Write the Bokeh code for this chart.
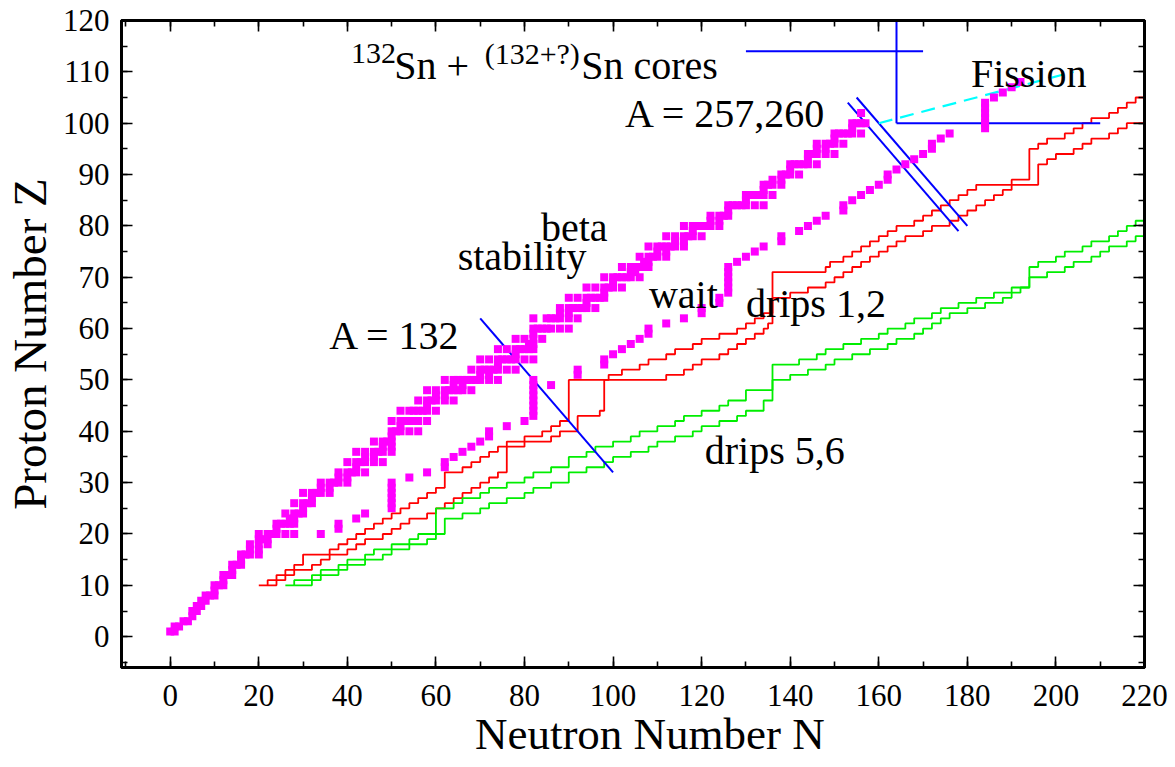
from bokeh.plotting import figure
from bokeh.models import Label, FixedTicker, LinearAxis, Range1d
from bokeh.embed import file_html
from bokeh.resources import INLINE

# ---------------- data ----------------
# beta-stable nuclei (N, Z)
beta_stable = [
    (0, 1), (1, 1), (1, 2), (2, 2), (3, 3), (4, 3), (5, 4), (5, 5), (6, 5),
    (6, 6), (7, 6), (7, 7), (8, 7), (8, 8), (9, 8), (10, 8), (10, 9),
    (10, 10), (11, 10), (12, 10), (12, 11), (12, 12), (13, 12), (14, 12),
    (14, 13), (14, 14), (15, 14), (16, 14), (16, 15),
    (16, 16), (17, 16), (18, 16), (20, 16), (18, 17), (20, 17),
    (18, 18), (20, 18), (22, 18), (20, 19), (21, 19), (22, 19),
    (20, 20), (22, 20), (23, 20), (24, 20), (26, 20), (28, 20), (24, 21),
    (24, 22), (25, 22), (26, 22), (27, 22), (28, 22), (27, 23), (28, 23),
    (26, 24), (28, 24), (29, 24), (30, 24), (30, 25),
    (28, 26), (30, 26), (31, 26), (32, 26), (32, 27),
    (30, 28), (32, 28), (33, 28), (34, 28), (36, 28), (34, 29), (36, 29),
    (34, 30), (36, 30), (37, 30), (38, 30), (40, 30), (38, 31), (40, 31),
    (38, 32), (40, 32), (41, 32), (42, 32), (44, 32), (42, 33),
    (40, 34), (42, 34), (43, 34), (44, 34), (46, 34), (48, 34), (44, 35), (46, 35),
    (42, 36), (44, 36), (46, 36), (47, 36), (48, 36), (50, 36), (48, 37), (50, 37),
    (46, 38), (48, 38), (49, 38), (50, 38), (50, 39),
    (50, 40), (51, 40), (52, 40), (54, 40), (56, 40), (52, 41),
    (50, 42), (52, 42), (53, 42), (54, 42), (55, 42), (56, 42), (58, 42),
    (52, 44), (54, 44), (55, 44), (56, 44), (57, 44), (58, 44), (60, 44), (58, 45),
    (56, 46), (58, 46), (59, 46), (60, 46), (62, 46), (64, 46), (60, 47), (62, 47),
    (58, 48), (60, 48), (62, 48), (63, 48), (64, 48), (65, 48), (66, 48), (68, 48),
    (64, 49), (66, 49),
    (62, 50), (64, 50), (65, 50), (66, 50), (67, 50), (68, 50), (69, 50), (70, 50),
    (72, 50), (74, 50), (70, 51), (72, 51),
    (68, 52), (70, 52), (71, 52), (72, 52), (73, 52), (74, 52), (76, 52), (78, 52),
    (74, 53),
    (70, 54), (72, 54), (74, 54), (75, 54), (76, 54), (77, 54), (78, 54), (80, 54),
    (82, 54), (78, 55),
    (74, 56), (76, 56), (78, 56), (79, 56), (80, 56), (81, 56), (82, 56),
    (81, 57), (82, 57), (78, 58), (80, 58), (82, 58), (84, 58), (82, 59),
    (82, 60), (83, 60), (84, 60), (85, 60), (86, 60), (88, 60), (90, 60),
    (82, 62), (85, 62), (86, 62), (87, 62), (88, 62), (90, 62), (92, 62),
    (88, 63), (90, 63),
    (88, 64), (90, 64), (91, 64), (92, 64), (93, 64), (94, 64), (96, 64), (94, 65),
    (90, 66), (92, 66), (94, 66), (95, 66), (96, 66), (97, 66), (98, 66), (98, 67),
    (94, 68), (96, 68), (98, 68), (99, 68), (100, 68), (102, 68), (100, 69),
    (98, 70), (100, 70), (101, 70), (102, 70), (103, 70), (104, 70), (106, 70),
    (104, 71), (105, 71),
    (102, 72), (104, 72), (105, 72), (106, 72), (107, 72), (108, 72),
    (107, 73), (108, 73),
    (106, 74), (108, 74), (109, 74), (110, 74), (112, 74), (110, 75), (112, 75),
    (108, 76), (110, 76), (111, 76), (112, 76), (113, 76), (114, 76), (116, 76),
    (114, 77), (116, 77),
    (112, 78), (114, 78), (116, 78), (117, 78), (118, 78), (120, 78), (118, 79),
    (116, 80), (118, 80), (119, 80), (120, 80), (121, 80), (122, 80), (124, 80),
    (122, 81), (124, 81),
    (122, 82), (124, 82), (125, 82), (126, 82), (126, 83),
    (126, 84), (127, 84), (128, 84), (129, 84), (130, 84), (132, 84), (134, 84),
    (130, 85),
    (130, 86), (131, 86), (132, 86), (133, 86), (134, 86), (136, 86), (134, 87),
    (134, 88), (135, 88), (136, 88), (138, 88), (136, 89), (138, 89),
    (138, 90), (139, 90), (140, 90), (142, 90), (140, 91),
    (140, 92), (141, 92), (142, 92), (143, 92), (144, 92), (146, 92), (144, 93),
    (144, 94), (145, 94), (146, 94), (148, 94), (150, 94), (146, 95), (148, 95),
    (146, 96), (148, 96), (149, 96), (150, 96), (152, 96), (150, 97),
    (150, 98), (151, 98), (152, 98), (153, 98), (154, 98), (156, 98), (154, 99),
    (154, 100), (155, 100), (156, 100), (157, 100), (156, 102),
]

# r-process waiting points (N, Z)
wait_points = [
    (34, 20), (38, 21), (38, 22), (42, 23), (44, 24),
    (50, 25), (50, 26), (50, 27), (50, 28), (50, 29), (50, 30),
    (54, 31), (58, 32), (62, 33), (62, 34), (64, 35), (66, 36), (68, 37),
    (70, 38), (72, 39), (72, 40), (76, 41), (80, 42),
    (82, 43), (82, 44), (82, 45), (82, 46), (82, 47), (82, 48), (82, 49), (82, 50),
    (86, 49), (92, 51), (92, 52), (98, 53), (98, 54), (100, 55), (102, 56),
    (104, 57), (106, 58), (108, 59), (108, 60), (112, 61), (116, 62),
    (120, 63), (120, 64), (124, 65), (124, 66),
    (126, 67), (126, 68), (126, 69), (126, 70), (126, 71), (126, 72),
    (128, 73), (130, 74), (132, 75), (134, 76), (138, 77), (138, 78),
    (142, 79), (144, 80), (146, 81), (148, 82), (152, 83), (152, 84),
    (154, 85), (156, 86), (158, 87), (160, 88), (162, 89), (162, 90),
    (164, 91), (166, 92), (168, 93), (170, 94), (172, 95), (172, 96),
    (174, 97), (176, 98),
    (184, 99), (184, 100), (184, 101), (184, 102), (184, 103), (184, 104),
    (186, 105), (188, 106), (190, 107), (192, 108),
]

# drip lines as staircases: (N where a new Z level starts, Z)
drip_1 = [
    (20, 10), (22, 11), (24, 12), (26, 13), (28, 14), (30, 16), (36, 17), (38, 18),
    (40, 19), (42, 20), (44, 21), (46, 22), (48, 23), (50, 24), (52, 25), (54, 26),
    (56, 27), (58, 28), (60, 29), (62, 32), (66, 33), (68, 34), (70, 35), (72, 36),
    (74, 37), (76, 38), (80, 39), (84, 40), (86, 41), (88, 42), (90, 50), (99, 51),
    (102, 52), (106, 53), (108, 54), (112, 55), (114, 56), (118, 57), (120, 58),
    (124, 59), (128, 60), (130, 61), (132, 62), (134, 63), (136, 66), (140, 67),
    (144, 68), (148, 69), (150, 70), (152, 71), (154, 72), (156, 73), (158, 74),
    (160, 75), (162, 76), (164, 77), (166, 78), (170, 79), (172, 80), (176, 81),
    (178, 82), (180, 83), (182, 84), (184, 85), (186, 86), (188, 87), (190, 88),
    (196, 92), (198, 93), (200, 94), (204, 95), (206, 96), (208, 97), (212, 98),
    (214, 99), (216, 100), (220, 101),
]
drip_2 = [
    (22, 10), (24, 11), (26, 12), (28, 13), (32, 14), (34, 15), (36, 16), (40, 17),
    (42, 18), (44, 19), (48, 20), (50, 21), (52, 22), (54, 23), (58, 24), (60, 25),
    (62, 26), (64, 27), (66, 28), (68, 29), (70, 30), (72, 31), (74, 32), (76, 37),
    (80, 38), (86, 39), (88, 40), (92, 43), (97, 44), (98, 50), (112, 51), (116, 52),
    (118, 53), (120, 54), (124, 55), (126, 56), (128, 57), (130, 58), (132, 59),
    (134, 60), (135, 61), (136, 71), (148, 72), (149, 73), (152, 74), (154, 75),
    (156, 76), (158, 77), (160, 78), (162, 79), (164, 80), (168, 81), (170, 82),
    (172, 83), (174, 84), (176, 85), (178, 86), (180, 87), (182, 88), (190, 89),
    (194, 95), (196, 96), (198, 97), (202, 98), (204, 99), (206, 100), (208, 101),
    (212, 102), (214, 103), (216, 104), (218, 105), (220, 106),
]
drip_5 = [
    (26, 10), (28, 11), (32, 12), (34, 13), (38, 14), (40, 15), (44, 16), (46, 17),
    (50, 18), (54, 19), (56, 20), (60, 25), (64, 26), (66, 27), (70, 28), (72, 29),
    (76, 30), (80, 31), (82, 32), (86, 33), (90, 35), (94, 36), (96, 37), (100, 38),
    (104, 39), (106, 40), (110, 41), (114, 42), (116, 43), (120, 44), (124, 45),
    (126, 46), (130, 48), (136, 53), (142, 54), (146, 55), (148, 56), (152, 57),
    (156, 58), (160, 59), (162, 60), (166, 61), (168, 62), (172, 63), (174, 64),
    (178, 65), (182, 66), (186, 67), (190, 68), (194, 72), (196, 73), (200, 74),
    (202, 75), (206, 76), (208, 77), (212, 78), (214, 79), (216, 80), (218, 81),
    (220, 81),
]
drip_6 = [
    (28, 10), (32, 11), (34, 12), (38, 13), (40, 14), (44, 15), (48, 16), (50, 17),
    (54, 18), (58, 19), (60, 20), (62, 23), (66, 24), (70, 25), (72, 26), (76, 27),
    (80, 28), (82, 29), (86, 30), (90, 32), (94, 33), (98, 34), (100, 35), (104, 36),
    (108, 37), (110, 38), (114, 39), (118, 40), (120, 41), (124, 42), (128, 43),
    (130, 44), (134, 46), (136, 50), (140, 51), (144, 52), (148, 53), (150, 54),
    (154, 55), (158, 56), (162, 57), (164, 58), (168, 59), (170, 60), (172, 61),
    (174, 62), (176, 63), (180, 64), (184, 65), (188, 66), (190, 67), (192, 68),
    (194, 70), (198, 71), (202, 72), (204, 73), (208, 74), (210, 75), (212, 76),
    (216, 77), (218, 78), (220, 78),
]

# constant-A lines (A, N start, N end)
isobar_132 = (132, 70, 100)
isobar_257 = (257, 153, 178)
isobar_260 = (260, 155, 180)

# 132Sn + 132Sn core boundary
core_N = 164
core_Z = 100
core_N_end = 210
core_key_N = [130, 170]
core_key_Z = 114

# fission termination line
fission_N = [160, 204]
fission_Z = [100, 110]

x_major = list(range(0, 221, 20))
x_minor = list(range(-10, 221, 10))
y_major = list(range(0, 121, 10))
y_minor = list(range(-5, 121, 5))

SERIF = "Liberation Serif"

# ---------------- figure ----------------
p = figure(
    width=1175, height=767,
    x_range=Range1d(-11, 220), y_range=Range1d(-6, 120),
    output_backend="svg", toolbar_location=None,
    min_border_left=120, min_border_right=31,
    min_border_top=20, min_border_bottom=100,
    background_fill_color="white", border_fill_color="white",
)
p.grid.visible = False
p.outline_line_color = "black"
p.outline_line_width = 3

top_axis = LinearAxis()
right_axis = LinearAxis()
p.add_layout(top_axis, "above")
p.add_layout(right_axis, "right")

for ax in p.xaxis:
    ax.ticker = FixedTicker(ticks=x_major, minor_ticks=x_minor)
for ax in p.yaxis:
    ax.ticker = FixedTicker(ticks=y_major, minor_ticks=y_minor)

for ax in list(p.xaxis) + list(p.yaxis):
    ax.axis_line_width = 3
    ax.axis_line_color = "black"
    ax.major_tick_in = 11
    ax.major_tick_out = 0
    ax.minor_tick_in = 6
    ax.minor_tick_out = 0
    ax.major_tick_line_width = 1.6
    ax.minor_tick_line_width = 1.6
    ax.major_tick_line_color = "black"
    ax.minor_tick_line_color = "black"
    ax.major_label_text_font = SERIF
    ax.major_label_text_font_size = "31px"
    ax.major_label_text_color = "black"

# mirror axes on top/right carry ticks only
for ax in (top_axis, right_axis):
    ax.major_label_text_font_size = "2px"
    ax.major_label_text_color = None
    ax.major_label_standoff = 0

xb = p.below[0]
xb.major_label_standoff = 17
# leading no-break spaces nudge the centred title slightly to the right
xb.axis_label = "\u00a0\u00a0\u00a0Neutron Number N"
xb.axis_label_text_font = SERIF
xb.axis_label_text_font_size = "45px"
xb.axis_label_text_font_style = "normal"
xb.axis_label_text_color = "black"
xb.axis_label_standoff = 0

yl = p.left[0]
yl.major_label_standoff = 12
yl.axis_label = "Proton Number Z"
yl.axis_label_text_font = SERIF
yl.axis_label_text_font_size = "47px"
yl.axis_label_text_font_style = "normal"
yl.axis_label_text_color = "black"
yl.axis_label_standoff = 4

# drip lines
for data, col in ((drip_1, "#ff0000"), (drip_2, "#ff0000"),
                  (drip_5, "#00ee00"), (drip_6, "#00ee00")):
    ns = [d[0] for d in data]
    zs = [d[1] for d in data]
    p.step(ns, zs, mode="after", line_color=col, line_width=1.8)

# constant-A lines
for A, n0, n1 in (isobar_132, isobar_257, isobar_260):
    p.line([n0, n1], [A - n0, A - n1], line_color="#0000ff", line_width=2)

# core boundary and its key sample
p.line([core_N, core_N], [core_Z, 120], line_color="#0000ff", line_width=2)
p.line([core_N, core_N_end], [core_Z, core_Z], line_color="#0000ff", line_width=2)
p.line(core_key_N, [core_key_Z, core_key_Z], line_color="#0000ff", line_width=2)

# fission line
p.line(fission_N, fission_Z, line_color="#00ffff", line_width=2.2, line_dash="14 8")

# nuclei
p.scatter([d[0] for d in beta_stable], [d[1] for d in beta_stable],
          marker="square", size=8, fill_color="#ff00ff", line_color=None)
p.scatter([d[0] for d in wait_points], [d[1] for d in wait_points],
          marker="square", size=8, fill_color="#ff00ff", line_color=None)


def txt(s, x, y, size="40px", **kw):
    p.add_layout(Label(x=x, y=y, text=s, text_font=SERIF, text_font_size=size,
                       text_color="black", text_baseline="alphabetic", **kw))


txt("132", 40.8, 113.6, size="30px")
txt("Sn +", 50.6, 111.2)
txt("(132+?)", 71.0, 113.6, size="30px")
txt("Sn cores", 92.8, 111.2)
txt("A = 257,260", 102.7, 101.9)
txt("Fission", 180.8, 109.7)
txt("beta", 83.7, 79.7)
txt("stability", 64.9, 74.0)
txt("wait", 108.1, 66.6)
txt("drips 1,2", 130.0, 64.9)
txt("A = 132", 35.9, 58.7)
txt("drips 5,6", 120.7, 36.3)

open("out.html", "w").write(file_html(p, INLINE))
